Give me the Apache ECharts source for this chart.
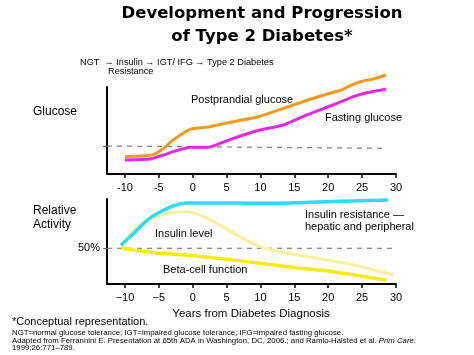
<!DOCTYPE html>
<html><head><meta charset="utf-8">
<script src="https://cdn.jsdelivr.net/npm/echarts@6/dist/echarts.min.js"></script>
<style>html,body{margin:0;padding:0;background:#fff}#c{width:474px;height:355px}</style>
</head><body><div id="c"></div>
<script>
// x tick labels (years from diagnosis)
const xTicks = [-10, -5, 0, 5, 10, 15, 20, 25, 30];
// Top panel: glucose (relative units)
const postprandial = [[-10,17.3],[-6.1,19],[-4.6,24],[-2.9,34],[-0.4,44.7],[2.5,47.3],[6,52.3],[9.7,57.3],[13.4,65.7],[17.8,75.7],[22.2,84.7],[22.9,87.3],[24.7,92.3],[26.6,95],[28.5,99]];
const fasting = [[-10,14],[-6.3,15],[-4.8,18],[-0.4,26.7],[2.3,26.7],[6,35.7],[9.9,44],[13.4,49],[16.8,59],[20.7,69],[23.7,77.3],[25.7,81.3],[28.5,84.7]];
const glucoseThreshold = [[-12.65,28],[28,25.7]];
// Bottom panel: relative activity
const insulinResistance = [[-10.6,39],[-8.8,50],[-6.5,65],[-4.8,72],[-2.9,78],[-0.9,81],[6,81],[12,80.7],[20.7,82.5],[28.8,84]];
const insulinLevel = [[-10.6,37],[-7.8,59],[-5.3,67.3],[-2.9,71.7],[-0.7,72.3],[1.1,69],[4,59],[7,47.3],[9.9,37.3],[12.9,32.3],[18.3,25.7],[23.7,19],[29.6,9]];
const betaCell = [[-10.6,35.7],[-4.8,30.7],[-0.9,29],[6,24],[9.9,20.7],[15.8,15.7],[20.7,12.3],[28.6,4]];
const fiftyPct = [[-12.65,35.7],[29.6,35.7]];

const chart = echarts.init(document.getElementById('c'), null, {renderer:'canvas'});
const FONT = '"Liberation Sans", Arial, sans-serif';
const xAxisBase = (gi, minus) => ({
  type:'value', gridIndex:gi, min:-12.65, max:30,
  splitLine:{show:false},
  axisLine:{show:true, onZero:false, lineStyle:{color:'#000', width:2}},
  axisTick:{show:true, customValues:xTicks, length:4, lineStyle:{color:'#000', width:1.5}},
  axisLabel:{show:true, customValues:xTicks, margin:8, color:'#000', fontSize:11, fontFamily:FONT,
    formatter: v => minus ? String(v).replace('-', '\u2212') : String(v)}
});
const lineS = (xi, data, color, w, smooth, extra) => Object.assign({
  type:'line', xAxisIndex:xi, yAxisIndex:xi, data, showSymbol:false, symbol:'none',
  smooth: smooth, clip:false, lineStyle:{color, width:w}, silent:true, z:3
}, extra||{});

const txt = (x, y, s, size, extra) => ({type:'text', x, y, style:Object.assign({text:s, fontSize:size, fontFamily:FONT, fill:'#000', textVerticalAlign:'middle'}, extra||{})});
const TFONT = '"DejaVu Sans", Verdana, sans-serif';

chart.setOption({
  animation:false,
  grid:[
    {left:107, top:87, width:289, height:87},
    {left:107, top:199, width:289, height:85}
  ],
  xAxis:[xAxisBase(0,false), xAxisBase(1,true)],
  yAxis:[
    {type:'value', gridIndex:0, min:0, max:87, splitLine:{show:false},
     axisLine:{show:true, onZero:false, lineStyle:{color:'#000', width:2}},
     axisTick:{show:true, customValues:[28], length:4, lineStyle:{color:'#666', width:1}},
     axisLabel:{show:false}},
    {type:'value', gridIndex:1, min:0, max:85, splitLine:{show:false},
     axisLine:{show:true, onZero:false, lineStyle:{color:'#000', width:2}},
     axisTick:{show:true, customValues:[35.7], length:4, lineStyle:{color:'#666', width:1}},
     axisLabel:{show:true, customValues:[35.7], formatter:()=> '50%', margin:7, color:'#000', fontSize:11, fontFamily:FONT}}
  ],
  series:[
    lineS(0, glucoseThreshold, '#808080', 1.2, false, {lineStyle:{color:'#808080', width:1.2, type:[5,5]}, z:2}),
    lineS(0, postprandial, '#F39A1E', 3, 0.2),
    lineS(0, fasting, '#E626E6', 3, 0.15),
    lineS(1, fiftyPct, '#808080', 1.2, false, {lineStyle:{color:'#808080', width:1.2, type:[5,5]}, z:2}),
    lineS(1, insulinLevel, '#F7F09A', 3, 0.4),
    lineS(1, betaCell, '#F5EA1A', 3.5, 0.2),
    lineS(1, insulinResistance, '#2CDDEE', 3.5, 0.4)
  ],
  graphic:[
    {type:'text', x:262, y:14, style:{text:'Development and Progression', fontSize:16.5, fontWeight:'bold', fontFamily:TFONT, fill:'#000', textAlign:'center', textVerticalAlign:'middle'}},
    {type:'text', x:262, y:36.5, style:{text:'of Type 2 Diabetes*', fontSize:16.5, fontWeight:'bold', fontFamily:TFONT, fill:'#000', textAlign:'center', textVerticalAlign:'middle'}},
    txt(80, 62, 'NGT  \u2192 Insulin \u2192 IGT/ IFG \u2192 Type 2 Diabetes', 9.2),
    txt(108, 71.5, 'Resistance', 9.2),
    txt(33, 112, 'Glucose', 12),
    txt(191, 100, 'Postprandial glucose', 11),
    txt(325, 118, 'Fasting glucose', 11),
    txt(33, 211, 'Relative', 12),
    txt(33, 225, 'Activity', 12),
    txt(155, 234, 'Insulin level', 11),
    txt(305, 215, 'Insulin resistance \u2014', 11),
    txt(305, 227, 'hepatic and peripheral', 11),
    txt(163, 270, 'Beta-cell function', 11),
    txt(251, 313.5, 'Years from Diabetes Diagnosis', 11.5, {textAlign:'center'}),
    txt(12, 322, '*Conceptual representation.', 11),
    txt(12, 332.5, 'NGT=normal glucose tolerance; IGT=impaired glucose tolerance; IFG=impaired fasting glucose.', 7.8),
    {type:'text', x:12, y:340.5, style:{rich:{n:{fontSize:7.8, fontFamily:FONT, fill:'#000'}, i:{fontSize:7.8, fontFamily:FONT, fontStyle:'italic', fill:'#000'}}, text:'{n|Adapted from Ferrannini E. Presentation at 65th ADA in Washington, DC, 2006.; and Ramlo-Halsted et al. }{i|Prim Care.}', textVerticalAlign:'middle'}},
    txt(12, 348, '1999;26:771\u2013789.', 7.8)
  ]
});
</script></body></html>
